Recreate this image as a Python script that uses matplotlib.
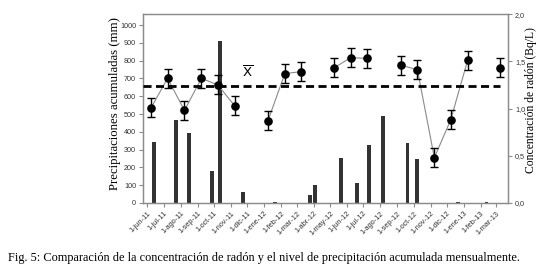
import numpy as np
import pandas as pd
import matplotlib
matplotlib.use("Agg")
import matplotlib.pyplot as plt

# ---------------- data ----------------
# Radon concentration (Bq/L), monthly samples; None = no sample that month
radon_dates = ["2011-06-08", "2011-07-08", "2011-08-08", "2011-09-08", "2011-10-08",
               "2011-11-08", "2011-12-08", "2012-01-08", "2012-02-08", "2012-03-08",
               "2012-04-08", "2012-05-08", "2012-06-08", "2012-07-08", "2012-08-08",
               "2012-09-08", "2012-10-08", "2012-11-08", "2012-12-08", "2013-01-08",
               "2013-02-08", "2013-03-08"]
radon_values = [1.01, 1.32, 0.98, 1.32, 1.25, 1.03, None, 0.87, 1.37, 1.39,
                None, 1.43, 1.54, 1.53, None, 1.46, 1.41, 0.48, 0.88, 1.51,
                None, 1.43]
radon_err = [0.1, 0.1, 0.1, 0.1, 0.1, 0.1, None, 0.1, 0.1, 0.1,
             None, 0.1, 0.1, 0.1, None, 0.1, 0.1, 0.1, 0.1, 0.1,
             None, 0.1]

# Accumulated precipitation (mm)
rain_dates = ["2011-06-13", "2011-07-23", "2011-08-16", "2011-09-27", "2011-10-12",
              "2011-11-23", "2012-01-21", "2012-03-25", "2012-04-03", "2012-05-21",
              "2012-06-19", "2012-07-11", "2012-08-06", "2012-09-20", "2012-10-07",
              "2012-12-21", "2013-02-12"]
rain_values = [343, 466, 395, 180, 910, 63, 5, 45, 101, 253,
               115, 326, 487, 337, 245, 8, 8]

x_tick_labels = ["1-jun-11", "1-jul-11", "1-ago-11", "1-sep-11", "1-oct-11", "1-nov-11",
                 "1-dic-11", "1-ene-12", "1-feb-12", "1-mar-12", "1-abr-12", "1-may-12",
                 "1-jun-12", "1-jul-12", "1-ago-12", "1-sep-12", "1-oct-12", "1-nov-12",
                 "1-dic-12", "1-ene-13", "1-feb-13", "1-mar-13"]
left_ticks = [0, 100, 200, 300, 400, 500, 600, 700, 800, 900, 1000]
right_ticks = [0.0, 0.5, 1.0, 1.5, 2.0]
right_tick_labels = ["0,0", "0,5", "1,0", "1,5", "2,0"]

ylabel_left = "Precipitaciones acumuladas (mm)"
ylabel_right = "Concentración de radón (Bq/L)"
caption = "Fig. 5: Comparación de la concentración de radón y el nivel de precipitación acumulada mensualmente."

# ---------------- plot ----------------
rd = pd.to_datetime(radon_dates)
rv = np.array([np.nan if v is None else v for v in radon_values], dtype=float)
re = np.array([np.nan if v is None else v for v in radon_err], dtype=float)
pdts = pd.to_datetime(rain_dates)
tick_dates = pd.date_range("2011-06-01", periods=len(x_tick_labels), freq="MS")
mean_radon = np.nanmean(rv)
x_start = pd.Timestamp("2011-05-24")
x_end = pd.Timestamp("2013-03-23")

serif = ["Liberation Serif", "DejaVu Serif"]
tickfont = ["Liberation Sans", "DejaVu Sans"]

W, H = 553, 276
fig = plt.figure(figsize=(W / 100, H / 100), dpi=100)
ax1 = fig.add_axes([0.2586, 0.2645, 0.66, 0.6845])
ax2 = ax1.twinx()

spine_c = "#8c8c8c"
ax1.bar(pdts, rain_values, width=6.5, color="#333333", zorder=2)
ax1.set_ylim(0, 1062)
ax1.set_yticks(left_ticks)
ax1.set_yticklabels([str(t) for t in left_ticks], fontsize=5.2, family=tickfont, color="#333333")
ax1.set_xticks(tick_dates)
ax1.set_xticklabels(x_tick_labels, rotation=45, ha="right", rotation_mode="anchor",
                    fontsize=5.3, family=tickfont, color="#333333")

ax2.set_ylim(0, 2.0)
ax2.set_yticks(right_ticks)
ax2.set_yticklabels(right_tick_labels, fontsize=5.2, family=tickfont, color="#333333")

# radon series
ax2.plot(rd, rv, color="#8a8a8a", lw=0.8, zorder=3)
ax2.errorbar(rd, rv, yerr=re, fmt="o", color="black", ms=5.2, elinewidth=1.0,
             capsize=3, capthick=1.0, zorder=4)
# mean line
ax2.plot([x_start, rd[-1]], [mean_radon, mean_radon], color="black",
         lw=2, dashes=(2.9, 1.6), zorder=3)
ax2.text(pd.Timestamp("2011-12-02"), mean_radon + 0.06, r"$\overline{\mathrm{X}}$",
         fontsize=9.5, ha="center", va="bottom", family=serif)
ax1.set_xlim(x_start, x_end)

for ax in (ax1, ax2):
    for s in ax.spines.values():
        s.set_color(spine_c)
        s.set_linewidth(0.9)
    ax.tick_params(length=3, width=0.8, color=spine_c, pad=2)

# axis titles placed at the reference pixel positions
fig.text(115 / W, 1 - 104 / H, ylabel_left, rotation=90, fontsize=9.2, family=serif,
         ha="center", va="center")
fig.text(531 / W, 1 - 100 / H, ylabel_right, rotation=90, fontsize=8.4, family=serif,
         ha="center", va="center")

fig.text(0.015, 0.065, caption, fontsize=8.8, family=serif, ha="left", va="center")

fig.savefig("out.png", dpi=100)
